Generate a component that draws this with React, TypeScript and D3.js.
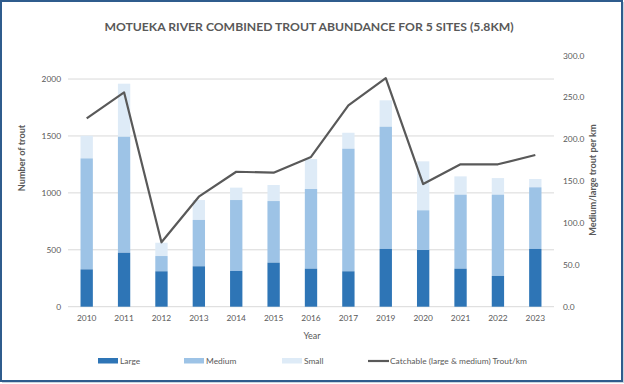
import React from "react";
import * as d3 from "d3";

const years = ["2010","2011","2012","2013","2014","2015","2016","2017","2019","2020","2021","2022","2023"];
const large = [328, 474, 311, 355, 314, 387, 334, 311, 507, 498, 334, 270, 507];
const mediumTop = [1303, 1493, 445, 762, 937, 928, 1034, 1388, 1581, 847, 984, 984, 1049];
const totals = [1502, 1959, 562, 937, 1046, 1069, 1297, 1528, 1813, 1277, 1145, 1130, 1122];
const catchablePerKm = [225.2, 256.2, 77.0, 131.5, 161.3, 160.2, 179.0, 240.7, 273.3, 146.6, 170.2, 170.2, 181.3];
const leftTicks = [0, 500, 1000, 1500, 2000];
const rightTicks = [0, 50, 100, 150, 200, 250, 300];

const C_LARGE = "#2E75B6";
const C_MED = "#9DC3E6";
const C_SMALL = "#DEEBF7";
const C_LINE = "#595959";
const FONT = "Lato, 'Open Sans', sans-serif";

export default function App() {
  const W = 624, H = 384;
  const x0 = 68, x1 = 554, yTop = 55.7, yBot = 306.7;
  const x = d3.scaleBand<string>().domain(years).range([x0, x1]).paddingInner(0.67).paddingOuter(0.335);
  const yL = d3.scaleLinear().domain([0, 2205]).range([yBot, yTop]);
  const yR = d3.scaleLinear().domain([0, 300]).range([yBot, yTop]);
  const cx = (y: string) => (x(y) as number) + x.bandwidth() / 2;
  const line = d3.line<number>().x((_, i) => cx(years[i])).y(d => yR(d));

  const legend = [
    { label: "Large", color: C_LARGE, x: 98, type: "rect" },
    { label: "Medium", color: C_MED, x: 184, type: "rect" },
    { label: "Small", color: C_SMALL, x: 282, type: "rect" },
    { label: "Catchable (large & medium) Trout/km", color: C_LINE, x: 368, type: "line" },
  ];
  const fs = 8.4;

  return (
    <div style={{ position: "absolute", left: 0, top: 0 }}>
      <svg width={W} height={H} style={{ display: "block", fontFamily: FONT }}>
        <rect x={0} y={0} width={W} height={H} fill="#fff" />
        <rect x={1} y={1} width={621} height={380} fill="#fff" stroke="#2F5C8D" strokeWidth={2} />
        <line x1={2} y1={382.5} x2={623} y2={382.5} stroke="#C9D3DE" strokeWidth={1} />
        <line x1={623.5} y1={2} x2={623.5} y2={383} stroke="#C9D3DE" strokeWidth={1} />
        <text x={309} y={30.5} textAnchor="middle" fontSize={12.2} fontWeight={700} fill="#595959">
          MOTUEKA RIVER COMBINED TROUT ABUNDANCE FOR 5 SITES (5.8KM)
        </text>
        {leftTicks.map(t => (
          <g key={"l" + t}>
            <line x1={x0} x2={x1} y1={yL(t)} y2={yL(t)} stroke="#D9D9D9" strokeWidth={1} />
            <text x={61} y={yL(t)} dy="0.35em" textAnchor="end" fontSize={fs} fill="#595959">{t}</text>
          </g>
        ))}
        {rightTicks.map(t => (
          <text key={"r" + t} x={563} y={yR(t)} dy="0.35em" textAnchor="start" fontSize={fs} fill="#595959">{t.toFixed(1)}</text>
        ))}
        {years.map((yr, i) => (
          <g key={yr}>
            <rect x={x(yr)} width={x.bandwidth()} y={yL(totals[i])} height={yL(mediumTop[i]) - yL(totals[i])} fill={C_SMALL} />
            <rect x={x(yr)} width={x.bandwidth()} y={yL(mediumTop[i])} height={yL(large[i]) - yL(mediumTop[i])} fill={C_MED} />
            <rect x={x(yr)} width={x.bandwidth()} y={yL(large[i])} height={yL(0) - yL(large[i])} fill={C_LARGE} />
            <text x={cx(yr)} y={318.5} dy="0.35em" textAnchor="middle" fontSize={fs} fill="#595959">{yr}</text>
          </g>
        ))}
        <path d={line(catchablePerKm) || ""} fill="none" stroke={C_LINE} strokeWidth={2.2} strokeLinejoin="round" />
        <text x={312} y={336} dy="0.35em" textAnchor="middle" fontSize={9} fill="#595959">Year</text>
        <text transform={`translate(22,158) rotate(-90)`} dy="0.35em" textAnchor="middle" fontSize={9.2} fontWeight={700} fill="#595959">Number of trout</text>
        <text transform={`translate(593,180) rotate(-90)`} dy="0.35em" textAnchor="middle" fontSize={9.2} fontWeight={700} fill="#595959">Medium/large trout per km</text>
        {legend.map(l => (
          <g key={l.label}>
            {l.type === "rect" ? (
              <rect x={l.x} y={358} width={20} height={5.5} fill={l.color} />
            ) : (
              <line x1={l.x} x2={l.x + 21} y1={361} y2={361} stroke={l.color} strokeWidth={2.2} />
            )}
            <text x={l.x + 22} y={361} dy="0.35em" fontSize={fs} fill="#595959">{l.label}</text>
          </g>
        ))}
      </svg>
    </div>
  );
}
